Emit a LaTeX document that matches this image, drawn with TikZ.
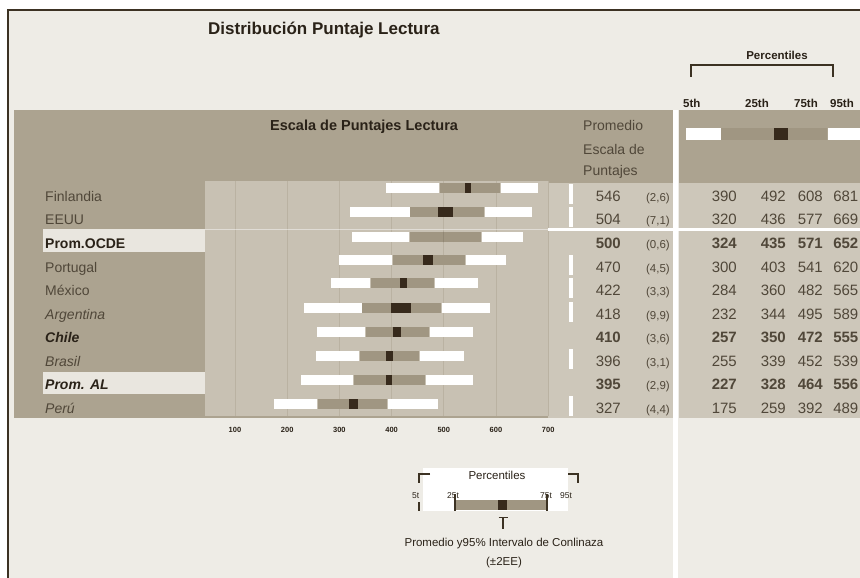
\documentclass[tikz,border=0pt]{standalone}
\usepackage{fontspec}
\setmainfont{Liberation Sans}
\definecolor{bg}{RGB}{238,236,230}
\definecolor{band}{RGB}{172,163,144}
\definecolor{panel}{RGB}{200,193,179}
\definecolor{numbg}{RGB}{205,199,186}
\definecolor{hl}{RGB}{233,230,223}
\definecolor{iqr}{RGB}{160,150,130}
\definecolor{meanc}{RGB}{55,42,28}
\definecolor{txt}{RGB}{80,71,57}
\definecolor{dtxt}{RGB}{42,34,24}
\definecolor{framec}{RGB}{60,50,35}
\definecolor{gridc}{RGB}{186,178,162}
\newcommand{\fs}[1]{\fontsize{#1}{#1}\selectfont}
\begin{document}
\begin{tikzpicture}[x=1pt,y=-1pt,
  lbl/.style={inner sep=0pt,text=txt,font=\fs{14}},
  num/.style={inner sep=0pt,text=txt,font=\fs{15}},
  se/.style={inner sep=0pt,text=txt,font=\fs{11.5}},
  hdr/.style={inner sep=0pt,text=dtxt,font=\bfseries\fs{11.5}},
  axl/.style={inner sep=0pt,text=dtxt,font=\bfseries\fs{7.5}},
  leg/.style={inner sep=0pt,text=dtxt,font=\fs{11.5}},
  legs/.style={inner sep=0pt,text=dtxt,font=\fs{8.5}},
  brk/.style={draw=framec,line width=1.4pt}]
\useasboundingbox (0,0) rectangle (860,578);
\clip (0,0) rectangle (860,578);
% background and frame
\fill[white] (0,0) rectangle (860,578);
\fill[bg] (8,10) rectangle (860,578);
\draw[framec,line width=2pt] (8,578) -- (8,10) -- (860,10);
% title
\node[inner sep=0pt,text=dtxt,font=\bfseries\fs{17},anchor=base west] (title) at (208,35) {Distribución Puntaje Lectura};
% bands
\fill[band] (14,110) rectangle (673,418);
\fill[band] (679,110) rectangle (860,183);
\fill[numbg] (548,183) rectangle (673,418);
\fill[numbg] (679,183) rectangle (860,418);
\fill[panel] (205,181) rectangle (548,416);
\foreach \v in {100,200,...,700}{
  \draw[gridc,line width=0.8pt] ({235+(\v-100)*0.522},181) -- ({235+(\v-100)*0.522},416);
  \node[axl] (ax\v) at ({235+(\v-100)*0.522},430) {\v};
}
% highlights and separators
\fill[hl] (43,229) rectangle (205,252);
\fill[hl] (43,372) rectangle (205,394);
\fill[white] (548,228) rectangle (860,230.5);
\draw[white,opacity=0.45,line width=1pt] (205,229) -- (548,229);
\fill[white] (673,110) rectangle (678,578);
\foreach \yl in {196,219,267,290,314,361,408}{
  \fill[white] (569,\yl-12) rectangle (573,\yl+8);
}
% header texts
\node[inner sep=0pt,text=dtxt,font=\bfseries\fs{14.5},anchor=base west] (escala) at (270,130) {Escala de Puntajes Lectura};
\node[lbl,anchor=base west] (prom1) at (583,130) {Promedio};
\node[lbl,anchor=base west] (prom2) at (583,154) {Escala de};
\node[lbl,anchor=base west] (prom3) at (583,175) {Puntajes};
\node[hdr,anchor=base] (perc) at (777,60) {Percentiles};
\draw[brk] (691,77) -- (691,65) -- (833,65) -- (833,77);
\node[hdr,anchor=base west] (h5) at (683,107) {5th};
\node[hdr,anchor=base west] (h25) at (745,107) {25th};
\node[hdr,anchor=base west] (h75) at (794,107) {75th};
\node[hdr,anchor=base west] (h95) at (830,107) {95th};
\fill[white] (686,128) rectangle (720.5,140);
\fill[iqr] (721,128) rectangle (827,140);
\fill[meanc] (774,128) rectangle (788,140);
\fill[white] (827.5,128) rectangle (860,140);
% bars
\foreach \yb/\pa/\pb/\pc/\pd/\m/\s in {188/390/492/608/681/546/2.6, 212/320/436/577/669/504/7.1, 237/324/435/571/652/500/0, 260/300/403/541/620/470/4.5, 283/284/360/482/565/422/3.3, 308/232/344/495/589/418/9.9, 332/257/350/472/555/410/3.6, 356/255/339/452/539/396/3.1, 380/227/328/464/556/395/2.9, 404/175/259/392/489/327/4.4}{
  \fill[white] ({235+(\pa-100)*0.522},\yb-5.3) rectangle ({235+(\pb-100)*0.522-0.8},\yb+5.3);
  \fill[iqr] ({235+(\pb-100)*0.522},\yb-5.3) rectangle ({235+(\pc-100)*0.522},\yb+5.3);
  \fill[white] ({235+(\pc-100)*0.522+0.8},\yb-5.3) rectangle ({235+(\pd-100)*0.522},\yb+5.3);
  \fill[meanc] ({235+(\m-2*\s-100)*0.522},\yb-5.3) rectangle ({235+(\m+2*\s-100)*0.522},\yb+5.3);
}
% row labels
\node[lbl,anchor=base west] (l1) at (45,201) {Finlandia};
\node[lbl,anchor=base west] (l2) at (45,224) {EEUU};
\node[lbl,anchor=base west,font=\bfseries\fs{14},text=dtxt] (l3) at (45,248) {Prom.OCDE};
\node[lbl,anchor=base west] (l4) at (45,272) {Portugal};
\node[lbl,anchor=base west] (l5) at (45,295) {México};
\node[lbl,anchor=base west,font=\itshape\fs{14}] (l6) at (45,319) {Argentina};
\node[lbl,anchor=base west,font=\bfseries\itshape\fs{14},text=dtxt] (l7) at (45,342) {Chile};
\node[lbl,anchor=base west,font=\itshape\fs{14}] (l8) at (45,366) {Brasil};
\node[lbl,anchor=base west,font=\bfseries\itshape\fs{14},text=dtxt] (l9) at (45,389) {Prom. AL};
\node[lbl,anchor=base west,font=\itshape\fs{14}] (l10) at (45,413) {Perú};
% numbers
\foreach \yl/\f/\m/\s/\pa/\pb/\pc/\pd in {196/\mdseries/546/{(2,6)}/390/492/608/681, 219/\mdseries/504/{(7,1)}/320/436/577/669, 243/\bfseries/500/{(0,6)}/324/435/571/652, 267/\mdseries/470/{(4,5)}/300/403/541/620, 290/\mdseries/422/{(3,3)}/284/360/482/565, 314/\mdseries/418/{(9,9)}/232/344/495/589, 337/\bfseries/410/{(3,6)}/257/350/472/555, 361/\mdseries/396/{(3,1)}/255/339/452/539, 384/\bfseries/395/{(2,9)}/227/328/464/556, 408/\mdseries/327/{(4,4)}/175/259/392/489}{
  \node[num,anchor=base east,font=\f\fs{15}] (m\yl) at (621,\yl+5.5) {\m};
  \node[se,anchor=base east] (s\yl) at (670,\yl+5) {\s};
  \node[num,anchor=base east,font=\f\fs{15}] (a\yl) at (737,\yl+5.5) {\pa};
  \node[num,anchor=base east,font=\f\fs{15}] (b\yl) at (786,\yl+5.5) {\pb};
  \node[num,anchor=base east,font=\f\fs{15}] (c\yl) at (823,\yl+5.5) {\pc};
  \node[num,anchor=base east,font=\f\fs{15}] (d\yl) at (858.5,\yl+5.5) {\pd};
}
% legend
\fill[white] (423,468) rectangle (568,511);
\node[leg,anchor=base] (lperc) at (497,479) {Percentiles};
\draw[brk] (430,474) -- (419,474) -- (419,483);
\draw[brk] (419,502) -- (419,511);
\draw[brk] (568,474) -- (578,474) -- (578,483);
\node[legs,anchor=base west] (l5t) at (412,498) {5t};
\node[legs,anchor=base] (l25t) at (453,498) {25t};
\node[legs,anchor=base] (l75t) at (546,498) {75t};
\node[legs,anchor=base] (l95t) at (566,498) {95t};
\fill[iqr] (455,500) rectangle (547,510);
\fill[meanc] (498,500) rectangle (507,510);
\draw[framec,line width=1.2pt] (455,494) -- (455,511);
\draw[framec,line width=1.2pt] (547,494) -- (547,511);
\draw[framec,line width=1.2pt] (498.5,517.5) -- (507.5,517.5);
\draw[framec,line width=1.2pt] (503,517.5) -- (503,529);
\node[leg,anchor=base] (lprom) at (504,546) {Promedio y95\% Intervalo de Conlinaza};
\node[leg,anchor=base] (lee) at (504,565) {(±2EE)};
\end{tikzpicture}
\end{document}
